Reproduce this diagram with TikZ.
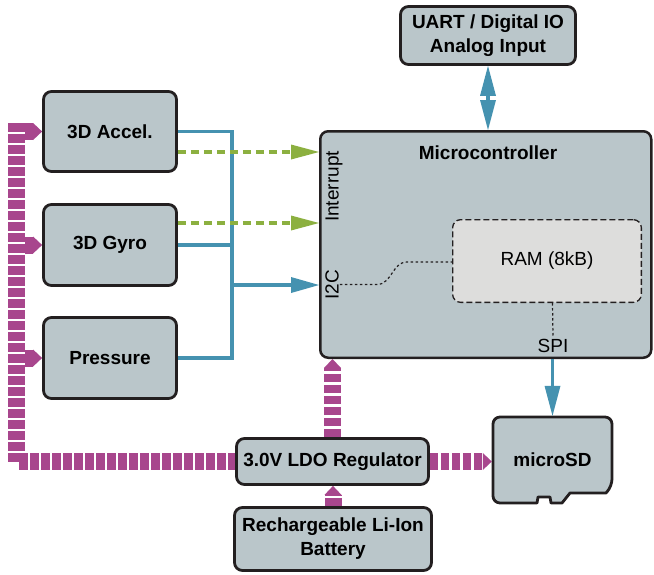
\documentclass[tikz,border=0pt]{standalone}
\usepackage{fontspec}
\setmainfont{Liberation Sans}
\usetikzlibrary{arrows.meta,positioning}

\definecolor{boxgray}{RGB}{186,198,202}
\definecolor{ramgray}{RGB}{221,221,220}
\definecolor{edgedark}{RGB}{35,31,32}
\definecolor{busblue}{RGB}{69,146,176}
\definecolor{irqgreen}{RGB}{140,176,64}
\definecolor{powermag}{RGB}{168,70,141}

\begin{document}
\begin{tikzpicture}[
    x=1pt, y=-1pt,
    every node/.style={font=\fontsize{19}{24}\selectfont},
    % Hardware block style
    block/.style={
        rectangle, rounded corners=8pt,
        draw=edgedark, fill=boxgray, line width=2.8pt,
        font=\fontsize{19}{24}\selectfont\bfseries, align=center,
        inner sep=2pt
    },
    % Memory inside the microcontroller
    memory/.style={
        rectangle, rounded corners=8pt,
        draw=edgedark, fill=ramgray, line width=1.3pt,
        dash pattern=on 6pt off 3pt, align=center
    },
    % Rotated port label
    port label/.style={rotate=90, anchor=base, inner sep=1pt},
    % Data line style
    signal/.style={draw=busblue, line width=3.2pt},
    link/.style={
        signal, -{Triangle[length=28pt, width=16pt, line width=0pt]}
    },
    % Interrupt line style
    irq/.style={
        draw=irqgreen, line width=3.2pt, dash pattern=on 8pt off 5pt,
        -{Triangle[length=28pt, width=15pt, line width=0pt]}
    },
    % Internal wiring
    wiring/.style={draw=edgedark, line width=1.2pt, dash pattern=on 2.5pt off 2.5pt},
    % Power rail style
    powerbus/.style={
        draw=powermag, line width=17pt, dash pattern=on 8.5pt off 2.5pt
    },
    power/.style={
        powerbus, -{Triangle[length=9pt, width=17pt, line width=0pt]}
    }
]
\useasboundingbox (0,0) rectangle (654,574);

% --- Blocks ---
% Top
\node[block, minimum width=175pt, minimum height=58pt] (uart) at (488,35.5)
    {UART / Digital IO\\Analog Input};
% Sensors on the left
\node[block, minimum width=133pt, minimum height=80pt] (accel) at (110,131.5) {3D Accel.};
\node[block, minimum width=133pt, minimum height=81pt] (gyro) at (110,245) {3D Gyro};
\node[block, minimum width=133pt, minimum height=81pt] (pressure) at (110,358) {Pressure};
% Microcontroller with its RAM
\node[block, line width=2.5pt, minimum width=331pt, minimum height=226.5pt] (micro) at (485.75,244.5) {};
\node[font=\fontsize{19}{24}\selectfont\bfseries] (mctitle) at (488,153) {Microcontroller};
\node[memory, minimum width=188.7pt, minimum height=82.7pt] (ram) at (547,261) {RAM (8kB)};
\node[port label] (irqport) at (338.5,186.5) {Interrupt};
\node[port label] (i2c) at (338.5,284.5) {I2C};
\node (spi) at (553,346) {SPI};
% Power
\node[block, minimum width=192pt, minimum height=46pt] (ldo) at (332.5,461.5) {3.0V LDO Regulator};
\node[block, minimum width=197pt, minimum height=63pt] (battery) at (333,539)
    {Rechargeable Li-Ion\\Battery};
% microSD card
\draw[edgedark, fill=boxgray, line width=2.8pt, line join=round]
    (493,460) [rounded corners=7pt] -- (493,417) -- (612,417) -- (612,486)
    [sharp corners] -- (606,493) -- (570,493) -- (562,503) -- (551,503)
    -- (550,497) -- (538,497) -- (537,503) -- (505,503)
    [rounded corners=7pt] -- (493,503) -- (493,460) -- cycle;
\node[font=\fontsize{19}{24}\selectfont\bfseries, minimum width=121pt, minimum height=88pt] (sd) at (552.5,460) {microSD};

% --- Sensor bus ---
\coordinate (hub) at (232,285);
\draw[signal] (accel.east) -| (hub);
\draw[signal] (gyro.east) -| (hub);
\draw[signal] (pressure.east) -| (hub);
\draw[link] (hub) -- (hub -| micro.west);

% --- Interrupts ---
\draw[irq] ([yshift=-20.5pt]accel.east) -- ([yshift=-20.5pt]accel.east -| micro.west);
\draw[irq] ([yshift=22pt]gyro.east) -- ([yshift=22pt]gyro.east -| micro.west);

% --- Internal wiring ---
\draw[wiring] (i2c.south) -- (377,284.5) to[out=0, in=180] (407,262) -- (ram.west |- 0,262);
\draw[wiring] (sd.north |- ram.south) -- (spi.north);

% --- Data links ---
\draw[signal, {Triangle[length=30pt, width=16pt, line width=0pt]}-{Triangle[length=30pt, width=16pt, line width=0pt]}]
    (uart.south) -- (uart.south |- micro.north);
\draw[link, -{Triangle[length=30pt, width=16pt, line width=0pt]}] (sd.north |- micro.south) -- (sd.north);

% --- Power rail ---
\coordinate (bustop) at (16.5,123);
\coordinate (buscorner) at (16.5,461.5);
\coordinate (busx) at (25,0);
\draw[powerbus] (bustop) -- (buscorner) -- (ldo.west);
\draw[power] (accel.west -| busx) -- (accel.west);
\draw[power] (gyro.west -| busx) -- (gyro.west);
\draw[power] (pressure.west -| busx) -- (pressure.west);
\draw[power] (ldo.east) -- (ldo.east -| sd.west);
\draw[power] (ldo.north) -- (ldo.north |- micro.south);
\draw[power] (battery.north) -- (battery.north |- ldo.south);

\end{tikzpicture}
\end{document}
